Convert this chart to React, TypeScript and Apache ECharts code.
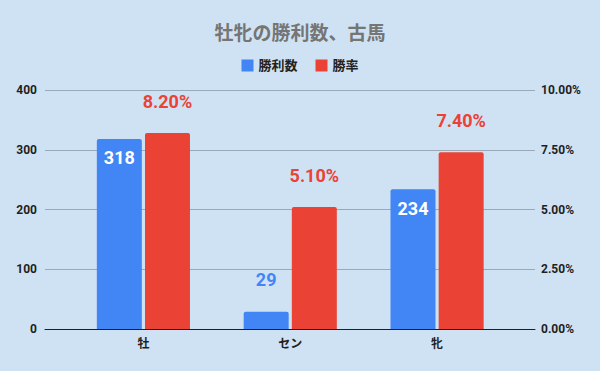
import React, { useEffect, useRef } from "react";
import * as echarts from "echarts";

const categories = ["牡", "セン", "牝"];
const wins = [318, 29, 234];
const winRates = [8.2, 5.1, 7.4];
const leftTicks = [0, 100, 200, 300, 400];
const rightTicks = [0, 2.5, 5, 7.5, 10];

const BLUE = "#4285f4";
const RED = "#ea4335";
const FONT = "Roboto, 'Noto Sans CJK JP', sans-serif";

export default function App() {
  const ref = useRef<HTMLDivElement>(null);
  useEffect(() => {
    if (!ref.current) return;
    const chart = echarts.init(ref.current, null, { renderer: "svg" });
    const axisLabel = { color: "#1f1f1f", fontWeight: "bold" as const, fontSize: 12, fontFamily: FONT };
    chart.setOption({
      animation: false,
      backgroundColor: "#cfe2f3",
      textStyle: { fontFamily: FONT },
      title: {
        text: "牡牝の勝利数、古馬",
        left: "center",
        top: 19,
        textStyle: { color: "#757575", fontSize: 19, fontWeight: "bold", fontFamily: FONT },
      },
      legend: {
        data: ["勝利数", "勝率"],
        top: 54,
        left: "center",
        icon: "rect",
        itemWidth: 12,
        itemHeight: 12,
        itemGap: 18,
        textStyle: { color: "#222", fontWeight: "bold", fontSize: 13, fontFamily: FONT },
      },
      grid: [
        { left: 45, right: 65, top: 90, bottom: 42 },
        { left: 70, right: 89.5, top: 90, bottom: 42 },
      ],
      xAxis: [
        {
          gridIndex: 0,
          type: "category",
          data: ["", "", ""],
          axisLine: { show: true, lineStyle: { color: "#1f1f1f", width: 1 } },
          axisTick: { show: false },
          axisLabel: { show: false },
        },
        {
          gridIndex: 1,
          type: "category",
          data: categories,
          axisLine: { show: false },
          axisTick: { show: false },
          axisLabel: { ...axisLabel, margin: 9 },
        },
      ],
      yAxis: [
        {
          gridIndex: 0,
          type: "value",
          min: leftTicks[0],
          max: leftTicks[leftTicks.length - 1],
          interval: 100,
          axisLine: { show: false },
          axisTick: { show: false },
          axisLabel: { ...axisLabel, margin: 8 },
          splitLine: { lineStyle: { color: "#9aa9b8", width: 1 } },
        },
        {
          gridIndex: 0,
          type: "value",
          position: "right",
          min: rightTicks[0],
          max: rightTicks[rightTicks.length - 1],
          interval: 2.5,
          axisLine: { show: false },
          axisTick: { show: false },
          axisLabel: { ...axisLabel, margin: 6, formatter: (v: number) => v.toFixed(2) + "%" },
          splitLine: { show: false },
        },
        {
          gridIndex: 1,
          type: "value",
          min: 0,
          max: 400,
          show: false,
        },
        {
          gridIndex: 1,
          type: "value",
          min: 0,
          max: 10,
          show: false,
        },
      ],
      series: [
        {
          name: "勝利数",
          type: "bar",
          xAxisIndex: 1,
          yAxisIndex: 2,
          barWidth: 45,
          barGap: "7%",
          itemStyle: { color: BLUE, borderRadius: [2, 2, 0, 0] },
          data: wins.map((v) => ({
            value: v,
            label:
              v < 60
                ? { show: true, position: "top", distance: 23, color: BLUE }
                : { show: true, position: "insideTop", distance: 10, color: "#fff" },
          })),
          label: { fontSize: 18, fontWeight: "bold", fontFamily: FONT },
        },
        {
          name: "勝率",
          type: "bar",
          xAxisIndex: 1,
          yAxisIndex: 3,
          barWidth: 45,
          barGap: "7%",
          itemStyle: { color: RED, borderRadius: [2, 2, 0, 0] },
          data: winRates,
          label: {
            show: true,
            position: "top",
            distance: 23,
            color: RED,
            fontSize: 18,
            fontWeight: "bold",
            fontFamily: FONT,
            formatter: (p: any) => p.value.toFixed(2) + "%",
          },
        },
      ],
    });
    return () => chart.dispose();
  }, []);
  return <div ref={ref} style={{ width: 600, height: 371, position: "absolute", left: 0, top: 0 }} />;
}
